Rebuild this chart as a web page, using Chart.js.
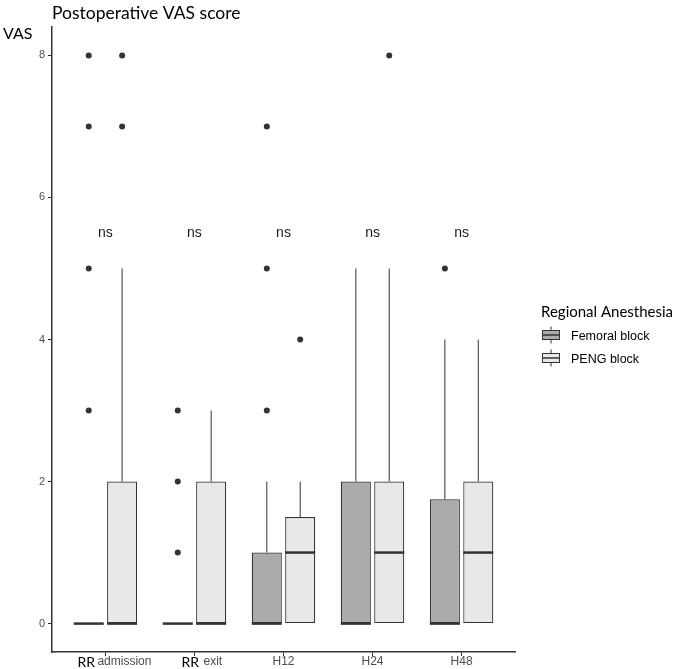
<!DOCTYPE html>
<html>
<head>
<meta charset="utf-8">
<script src="https://cdn.jsdelivr.net/npm/chart.js@4"></script>
<style>
  html, body { margin: 0; padding: 0; background: #fff; }
  #wrap { width: 680px; height: 669px; }
</style>
</head>
<body>
<div id="wrap"><canvas id="chart"></canvas></div>
<script>
const categories = ["RR admission", "RR exit", "H12", "H24", "H48"];
const groups = ["Femoral block", "PENG block"];
// each entry: [lower whisker, q1, median, q3, upper whisker]
const femoralStats = [[0,0,0,0,0], [0,0,0,0,0], [0,0,0,1,2], [0,0,0,2,5], [0,0,0,1.75,4]];
const pengStats    = [[0,0,0,2,5], [0,0,0,2,3], [0,0,1,1.5,2], [0,0,1,2,5], [0,0,1,2,4]];
const femoralOutliers = [[3,5,7,8], [1,2,3], [3,5,7], [], [5]];
const pengOutliers    = [[7,8], [], [4], [8], []];
const yTicks = [0, 2, 4, 6, 8];
const sigLabels = ["ns", "ns", "ns", "ns", "ns"];
const sigY = 5.5;

const colors = ["#ababab", "#e8e8e8"];
const edge = "#333333";
const dodge = 0.1875;

function boxData(stats){
  return stats.map((s, i) => ({ x: i, y: [s[1], s[3]] }));
}
function pointData(outs, shift){
  const pts = [];
  outs.forEach((list, i) => list.forEach(v => pts.push({ x: i + shift, y: v })));
  return pts;
}

const boxPlugin = {
  id: "boxParts",
  afterDatasetsDraw(chart){
    const ctx = chart.ctx;
    const y = chart.scales.y;
    [femoralStats, pengStats].forEach((stats, d) => {
      const meta = chart.getDatasetMeta(d);
      meta.data.forEach((bar, i) => {
        const s = stats[i];
        const x = bar.x, w = bar.width;
        ctx.save();
        ctx.strokeStyle = edge;
        ctx.lineWidth = 1;
        ctx.beginPath();
        if (s[4] > s[3]) { ctx.moveTo(x, y.getPixelForValue(s[3])); ctx.lineTo(x, y.getPixelForValue(s[4])); }
        if (s[0] < s[1]) { ctx.moveTo(x, y.getPixelForValue(s[1])); ctx.lineTo(x, y.getPixelForValue(s[0])); }
        ctx.stroke();
        ctx.lineWidth = 2.5;
        ctx.beginPath();
        const my = y.getPixelForValue(s[2]);
        ctx.moveTo(x - w / 2, my);
        ctx.lineTo(x + w / 2, my);
        ctx.stroke();
        ctx.restore();
      });
    });
  },
  afterDraw(chart){
    const ctx = chart.ctx;
    const xs = chart.scales.x, ys = chart.scales.y;
    ctx.save();
    // title + y title
    ctx.fillStyle = "#000";
    ctx.textBaseline = "middle";
    ctx.textAlign = "left";
    ctx.font = "17.5px Lato";
    ctx.fillText("Postoperative VAS score", 52, 13);
    ctx.font = "16px Lato";
    ctx.fillText("VAS", 3, 34);

    // significance labels
    ctx.textAlign = "center";
    ctx.font = "14px 'Liberation Sans'";
    ctx.fillStyle = "#1a1a1a";
    sigLabels.forEach((t, i) => ctx.fillText(t, xs.getPixelForValue(i), ys.getPixelForValue(sigY)));

    // x tick labels
    const ly = 662;
    categories.forEach((c, i) => {
      const px = xs.getPixelForValue(i);
      if (c.startsWith("RR ")) {
        const rest = c.slice(3);
        const off = rest === "admission" ? [-28, -8] : [-13, 9];
        ctx.textAlign = "left";
        ctx.fillStyle = "#000";
        ctx.font = "14px Lato";
        ctx.fillText("RR", px + off[0], ly);
        ctx.fillStyle = "#4d4d4d";
        ctx.font = "12px 'Liberation Sans'";
        ctx.fillText(rest, px + off[1], ly);
      } else {
        ctx.textAlign = "center";
        ctx.fillStyle = "#4d4d4d";
        ctx.font = "12px 'Liberation Sans'";
        ctx.fillText(c, px, ly);
      }
    });

    // legend
    ctx.textAlign = "left";
    ctx.fillStyle = "#000";
    ctx.font = "15px Lato";
    ctx.fillText("Regional Anesthesia", 541, 312);
    const keyY = [335, 358];
    groups.forEach((g, k) => {
      const cy = keyY[k];
      ctx.strokeStyle = edge;
      ctx.lineWidth = 1;
      ctx.beginPath();
      ctx.moveTo(551, cy - 8.5); ctx.lineTo(551, cy + 8.5);
      ctx.stroke();
      ctx.fillStyle = colors[k];
      ctx.fillRect(542, cy - 5, 18, 10);
      ctx.strokeRect(542.5, cy - 4.5, 17, 9);
      ctx.lineWidth = 1.5;
      ctx.beginPath();
      ctx.moveTo(542, cy); ctx.lineTo(560, cy);
      ctx.stroke();
      ctx.fillStyle = "#000";
      ctx.font = "12.5px 'Liberation Sans'";
      ctx.fillText(g, 571, cy + 2);
    });
    ctx.restore();
  }
};

new Chart(document.getElementById("chart"), {
  type: "bar",
  data: {
    datasets: [
      { label: groups[0], data: boxData(femoralStats), backgroundColor: colors[0], borderColor: edge,
        borderWidth: 1.2, borderSkipped: false, categoryPercentage: 0.75, barPercentage: 0.9 },
      { label: groups[1], data: boxData(pengStats), backgroundColor: colors[1], borderColor: edge,
        borderWidth: 1.2, borderSkipped: false, categoryPercentage: 0.75, barPercentage: 0.9 },
      { type: "scatter", label: "out1", data: pointData(femoralOutliers, -dodge),
        pointRadius: 3, backgroundColor: edge, borderWidth: 0 },
      { type: "scatter", label: "out2", data: pointData(pengOutliers, dodge),
        pointRadius: 3, backgroundColor: edge, borderWidth: 0 }
    ]
  },
  options: {
    responsive: true,
    maintainAspectRatio: false,
    animation: false,
    layout: { padding: { top: 27, right: 165, left: 0, bottom: 0 } },
    plugins: { legend: { display: false }, tooltip: { enabled: false }, title: { display: false } },
    scales: {
      x: {
        type: "linear", min: -0.6, max: 4.6, offset: false,
        afterBuildTicks: s => { s.ticks = categories.map((c, i) => ({ value: i })); },
        afterFit: s => { s.height = 17; },
        ticks: { callback: () => "", padding: 0 },
        grid: { offset: false, drawOnChartArea: false, color: edge, tickLength: 4, lineWidth: 1 },
        border: { color: edge, width: 1.5 }
      },
      y: {
        min: -0.4, max: 8.4,
        afterBuildTicks: s => { s.ticks = yTicks.map(v => ({ value: v })); },
        afterFit: s => { s.width = 52; },
        ticks: { color: "#4d4d4d", font: { family: "'Liberation Sans'", size: 11 }, padding: 3 },
        grid: { drawOnChartArea: false, color: edge, tickLength: 4, lineWidth: 1 },
        border: { color: edge, width: 1.5 }
      }
    }
  },
  plugins: [boxPlugin]
});
</script>
</body>
</html>
